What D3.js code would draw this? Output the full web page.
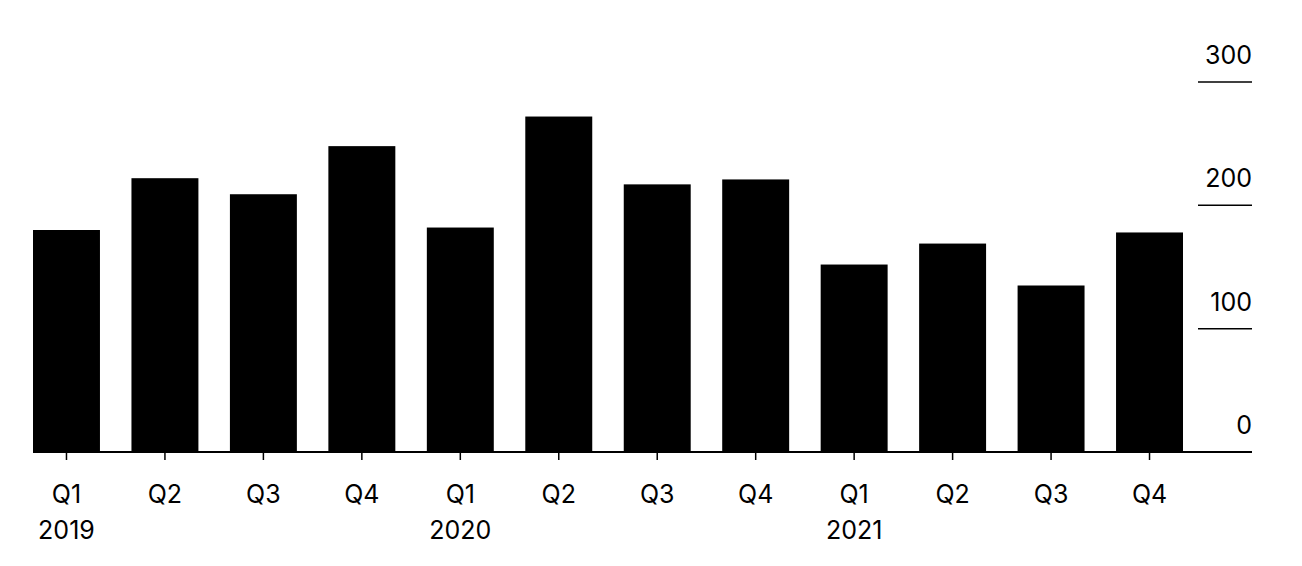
<!DOCTYPE html>
<html><head><meta charset="utf-8">
<script src="https://cdn.jsdelivr.net/npm/d3@7"></script>
<style>body{margin:0;background:#fff}text{font-family:Inter,"Noto Sans",sans-serif}</style>
</head><body><div id="chart"></div>
<script>
var quarters = ["Q1","Q2","Q3","Q4","Q1","Q2","Q3","Q4","Q1","Q2","Q3","Q4"];
var years = ["2019","","","","2020","","","","2021","","",""];
var values = [180,222,209,248,182,272,217,221,152,169,135,178];
var yTicks = [0,100,200,300];

var width = 1302, height = 566;
var svg = d3.select("#chart").append("svg").attr("width", width).attr("height", height);

var x = d3.scaleBand().domain(d3.range(values.length)).range([33, 1183]).paddingInner(0.32).paddingOuter(0);
var y = d3.scaleLinear().domain([0, 300]).range([452, 82]);

// grid labels with short rules on the right
var g = svg.append("g");
g.selectAll("line").data(yTicks.filter(d => d > 0)).enter().append("line")
    .attr("x1", 1198).attr("x2", 1252)
    .attr("y1", d => y(d)).attr("y2", d => y(d))
    .attr("stroke", "#000").attr("stroke-width", 1.5);
g.selectAll("text").data(yTicks).enter().append("text")
    .attr("x", 1252).attr("y", d => y(d) - 18)
    .attr("text-anchor", "end").attr("font-size", 25)
    .text(d => d);

svg.append("g").selectAll("rect").data(values).enter().append("rect")
    .attr("x", (d, i) => x(i)).attr("width", x.bandwidth())
    .attr("y", d => y(d)).attr("height", d => y(0) - y(d))
    .attr("fill", "#000");

svg.append("line").attr("x1", 33).attr("x2", 1252).attr("y1", y(0)).attr("y2", y(0))
    .attr("stroke", "#000").attr("stroke-width", 2);

var ax = svg.append("g");
ax.selectAll("line").data(quarters).enter().append("line")
    .attr("x1", (d, i) => x(i) + x.bandwidth() / 2).attr("x2", (d, i) => x(i) + x.bandwidth() / 2)
    .attr("y1", y(0)).attr("y2", y(0) + 8).attr("stroke", "#000").attr("stroke-width", 1.5);
ax.selectAll("text.q").data(quarters).enter().append("text").attr("class", "q")
    .attr("x", (d, i) => x(i) + x.bandwidth() / 2).attr("y", 503)
    .attr("text-anchor", "middle").attr("font-size", 25).text(d => d);
ax.selectAll("text.yr").data(years).enter().append("text").attr("class", "yr")
    .attr("x", (d, i) => x(i) + x.bandwidth() / 2).attr("y", 539)
    .attr("text-anchor", "middle").attr("font-size", 25).text(d => d);
</script></body></html>
